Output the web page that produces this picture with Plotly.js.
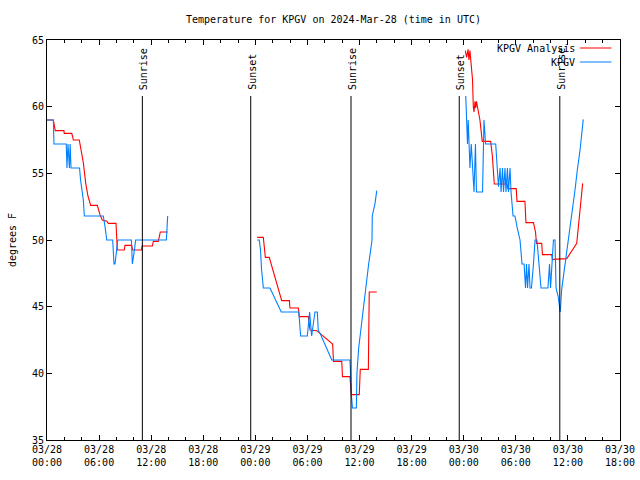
<!DOCTYPE html>
<html>
<head>
<meta charset="utf-8">
<script src="https://cdn.plot.ly/plotly-3.0.1.min.js"></script>
<style>html,body{margin:0;padding:0;background:#fff;}</style>
</head>
<body>
<div id="chart" style="width:640px;height:480px;"></div>
<script>
// Analysis (red) — null marks gaps between segments
const anaTime = [
"2024-03-28 00:00","2024-03-28 00:44","2024-03-28 00:57","2024-03-28 01:57","2024-03-28 01:59","2024-03-28 02:51","2024-03-28 02:56","2024-03-28 03:02","2024-03-28 03:43","2024-03-28 03:58","2024-03-28 04:11","2024-03-28 04:27","2024-03-28 04:43","2024-03-28 05:02","2024-03-28 05:48","2024-03-28 06:06","2024-03-28 06:22","2024-03-28 06:53","2024-03-28 07:04","2024-03-28 07:57","2024-03-28 08:06","2024-03-28 08:54","2024-03-28 08:59","2024-03-28 09:45","2024-03-28 09:52","2024-03-28 10:52","2024-03-28 10:57","2024-03-28 12:08","2024-03-28 12:15","2024-03-28 12:49","2024-03-28 12:57","2024-03-28 13:03","2024-03-28 13:54",
"2024-03-28 18:00",
"2024-03-29 00:13","2024-03-29 00:55","2024-03-29 01:09","2024-03-29 01:36","2024-03-29 03:02","2024-03-29 03:55","2024-03-29 03:59","2024-03-29 04:57","2024-03-29 05:04","2024-03-29 06:06","2024-03-29 06:18","2024-03-29 07:04","2024-03-29 08:54","2024-03-29 09:00","2024-03-29 09:57","2024-03-29 10:02","2024-03-29 10:54","2024-03-29 11:03","2024-03-29 11:58","2024-03-29 12:05","2024-03-29 13:01","2024-03-29 13:07","2024-03-29 13:59",
"2024-03-29 18:00",
"2024-03-30 00:11","2024-03-30 00:20","2024-03-30 00:30","2024-03-30 00:36","2024-03-30 00:43","2024-03-30 00:50","2024-03-30 00:57","2024-03-30 01:01","2024-03-30 01:06","2024-03-30 01:11","2024-03-30 01:18","2024-03-30 01:23","2024-03-30 01:28","2024-03-30 01:52","2024-03-30 02:08","2024-03-30 03:06","2024-03-30 03:18","2024-03-30 03:24","2024-03-30 03:31","2024-03-30 04:59","2024-03-30 05:06","2024-03-30 06:03","2024-03-30 06:08","2024-03-30 07:03","2024-03-30 07:10","2024-03-30 08:02","2024-03-30 08:16","2024-03-30 08:23","2024-03-30 08:59","2024-03-30 09:04","2024-03-30 10:08","2024-03-30 10:13","2024-03-30 11:05","2024-03-30 11:52","2024-03-30 13:01","2024-03-30 13:12","2024-03-30 13:24","2024-03-30 13:35","2024-03-30 13:42"
];
const anaTemp = [
59.0,59.0,58.2,58.2,58.0,58.0,57.8,57.5,57.5,56.6,55.8,54.3,53.3,52.6,52.6,51.9,51.5,51.4,51.25,51.25,49.25,49.25,49.6,49.6,49.25,49.25,49.55,49.55,49.9,49.9,50.25,50.6,50.6,
null,
50.2,50.2,48.7,48.7,45.45,45.45,44.9,44.9,44.25,44.25,43.25,43.2,42.2,40.9,40.9,39.75,39.75,38.4,38.4,40.3,40.3,46.1,46.1,
null,
64.2,63.7,64.3,63.5,64.2,63.2,62.9,62.0,60.0,59.6,60.4,59.9,60.4,59.0,57.4,57.4,56.3,55.0,54.2,54.2,53.85,53.85,52.9,52.9,51.3,51.3,50.6,49.75,49.75,48.9,48.9,48.55,48.55,48.6,49.75,51.0,52.3,53.3,54.25
];

// Observations (blue)
const obsTime = [
"2024-03-28 00:00","2024-03-28 00:44","2024-03-28 00:48","2024-03-28 02:13","2024-03-28 02:18","2024-03-28 02:25","2024-03-28 02:35","2024-03-28 02:40","2024-03-28 02:46","2024-03-28 03:45","2024-03-28 03:52","2024-03-28 04:02","2024-03-28 04:11","2024-03-28 04:18","2024-03-28 06:29","2024-03-28 06:41","2024-03-28 06:53","2024-03-28 07:34","2024-03-28 07:43","2024-03-28 07:50","2024-03-28 07:57","2024-03-28 08:09","2024-03-28 09:43","2024-03-28 09:50","2024-03-28 10:01","2024-03-28 10:13","2024-03-28 13:45","2024-03-28 13:49","2024-03-28 13:54",
"2024-03-28 18:00",
"2024-03-29 00:13","2024-03-29 00:27","2024-03-29 00:36","2024-03-29 00:42","2024-03-29 00:55","2024-03-29 01:41","2024-03-29 02:59","2024-03-29 05:00","2024-03-29 05:13","2024-03-29 05:59","2024-03-29 06:15","2024-03-29 06:29","2024-03-29 06:52","2024-03-29 07:08","2024-03-29 07:15","2024-03-29 07:27","2024-03-29 08:48","2024-03-29 10:54","2024-03-29 11:04","2024-03-29 11:11","2024-03-29 11:38","2024-03-29 11:42","2024-03-29 11:54","2024-03-29 12:08","2024-03-29 12:22","2024-03-29 12:36","2024-03-29 12:49","2024-03-29 13:03","2024-03-29 13:17","2024-03-29 13:26","2024-03-29 13:28","2024-03-29 13:47","2024-03-29 13:59",
"2024-03-29 18:00",
"2024-03-30 00:14","2024-03-30 00:20","2024-03-30 00:26","2024-03-30 00:31","2024-03-30 00:36","2024-03-30 00:43","2024-03-30 00:52","2024-03-30 01:01","2024-03-30 01:11","2024-03-30 01:21","2024-03-30 01:28","2024-03-30 01:41","2024-03-30 02:10","2024-03-30 02:20","2024-03-30 02:31","2024-03-30 03:41","2024-03-30 03:50","2024-03-30 04:00","2024-03-30 04:11","2024-03-30 04:18","2024-03-30 04:28","2024-03-30 04:35","2024-03-30 04:45","2024-03-30 04:52","2024-03-30 05:02","2024-03-30 05:09","2024-03-30 05:20","2024-03-30 05:27","2024-03-30 05:41","2024-03-30 05:54","2024-03-30 06:08","2024-03-30 06:29","2024-03-30 06:43","2024-03-30 06:57","2024-03-30 07:07","2024-03-30 07:14","2024-03-30 07:21","2024-03-30 07:31","2024-03-30 07:38","2024-03-30 07:48","2024-03-30 08:02","2024-03-30 08:13","2024-03-30 08:26","2024-03-30 08:40","2024-03-30 08:54","2024-03-30 09:42","2024-03-30 09:53","2024-03-30 10:00","2024-03-30 10:10","2024-03-30 10:20","2024-03-30 10:31","2024-03-30 10:38","2024-03-30 10:52","2024-03-30 11:02","2024-03-30 11:07","2024-03-30 11:17","2024-03-30 11:40","2024-03-30 12:03","2024-03-30 12:26","2024-03-30 12:49","2024-03-30 13:05","2024-03-30 13:24","2024-03-30 13:46"
];
const obsTemp = [
59.0,59.0,57.2,57.2,55.4,57.2,55.4,57.2,55.4,55.4,54.5,53.6,53.0,51.8,51.8,51.0,50.0,50.0,48.2,48.2,49.0,50.0,50.0,48.2,49.0,50.0,50.0,51.0,51.8,
null,
50.0,50.0,49.2,47.9,46.4,46.4,44.6,44.6,42.8,42.8,44.6,42.8,44.6,44.6,43.2,43.0,41.0,41.0,38.3,37.4,37.4,40.0,41.9,43.2,44.4,45.6,47.25,48.2,49.25,50.0,51.8,52.75,53.7,
null,
60.8,59.0,57.2,59.0,57.2,55.4,57.2,55.4,53.6,57.2,53.6,53.6,53.6,59.0,57.2,57.2,55.4,54.0,55.4,53.6,55.4,53.6,55.4,53.6,55.4,53.6,55.4,53.6,51.8,51.8,51.0,50.0,48.2,48.2,46.4,48.2,46.4,48.2,46.4,46.4,48.2,50.0,50.0,48.2,46.4,46.4,48.2,46.4,48.2,50.0,50.0,46.4,45.8,44.6,44.6,46.3,48.1,50.0,51.9,53.75,55.25,56.75,59.05
];

// Sunrise / sunset times
const sunTime = ["2024-03-28 10:59","2024-03-28 23:28","2024-03-29 11:01","2024-03-29 23:29","2024-03-30 11:04"];
const sunLabel = ["Sunrise","Sunset","Sunrise","Sunset","Sunrise"];

const seriesNames = ["KPGV Analysis","KPGV"];
const seriesColors = ["#ff0000","#0080ff"];

const FONT = "DejaVu Sans Mono, Liberation Mono, monospace";

const traces = [
  {x: anaTime, y: anaTemp, type: "scatter", mode: "lines", name: seriesNames[0],
   line: {color: seriesColors[0], width: 1.1}, connectgaps: false, showlegend: false},
  {x: obsTime, y: obsTemp, type: "scatter", mode: "lines", name: seriesNames[1],
   line: {color: seriesColors[1], width: 1.1}, connectgaps: false, showlegend: false}
];

const shapes = [];
const annotations = [];
sunTime.forEach((t, i) => {
  shapes.push({type: "line", xref: "x", yref: "paper", x0: t, x1: t, y0: 0, y1: 0.86,
               line: {color: "black", width: 1}});
  annotations.push({xref: "x", yref: "paper", x: t, y: 0.87, text: sunLabel[i],
                    textangle: -90, showarrow: false, xanchor: "center", yanchor: "bottom",
                    xshift: 1, font: {family: FONT, size: 10, color: "black"}});
});

// legend (text left, sample right, gnuplot style)
const legY = [0.98, 0.945];
seriesNames.forEach((n, i) => {
  annotations.push({xref: "paper", yref: "paper", x: 0.925, y: legY[i], text: n,
                    showarrow: false, xanchor: "right", yanchor: "middle",
                    font: {family: FONT, size: 10, color: "black"}});
  shapes.push({type: "line", xref: "paper", yref: "paper", x0: 0.93, x1: 0.985,
               y0: legY[i], y1: legY[i], line: {color: seriesColors[i], width: 1.1}});
});

const layout = {
  width: 640, height: 480,
  margin: {l: 47, r: 20, t: 40, b: 40, pad: 0},
  paper_bgcolor: "white", plot_bgcolor: "white",
  font: {family: FONT, size: 10, color: "black"},
  title: {text: "Temperature for KPGV on 2024-Mar-28 (time in UTC)",
          x: 0.5, xref: "paper", xanchor: "center", y: 1 - 19/480, yref: "container", yanchor: "middle",
          font: {family: FONT, size: 10, color: "black"}},
  xaxis: {type: "date", range: ["2024-03-28 00:00", "2024-03-30 18:00"],
          tick0: "2024-03-28 00:00", dtick: 6*3600000, tickformat: "%m/%d<br>%H:%M",
          ticks: "inside", ticklen: 5, tickcolor: "black", mirror: "ticks",
          showline: true, linecolor: "black", linewidth: 1, showgrid: false, zeroline: false,
          minor: {dtick: 2*3600000, ticks: "inside", ticklen: 3, tickcolor: "black", showgrid: false},
          tickfont: {family: FONT, size: 10, color: "black"}, automargin: false},
  yaxis: {range: [35, 65], dtick: 5, tick0: 35,
          ticks: "inside", ticklen: 5, tickcolor: "black", mirror: "ticks",
          showline: true, linecolor: "black", linewidth: 1, showgrid: false, zeroline: false,
          tickfont: {family: FONT, size: 10, color: "black"}, automargin: false,
          title: {text: "degrees F", standoff: 13, font: {family: FONT, size: 10, color: "black"}}},
  shapes: shapes,
  annotations: annotations,
  showlegend: false
};

Plotly.newPlot("chart", traces, layout, {staticPlot: true, displayModeBar: false});
</script>
</body>
</html>
